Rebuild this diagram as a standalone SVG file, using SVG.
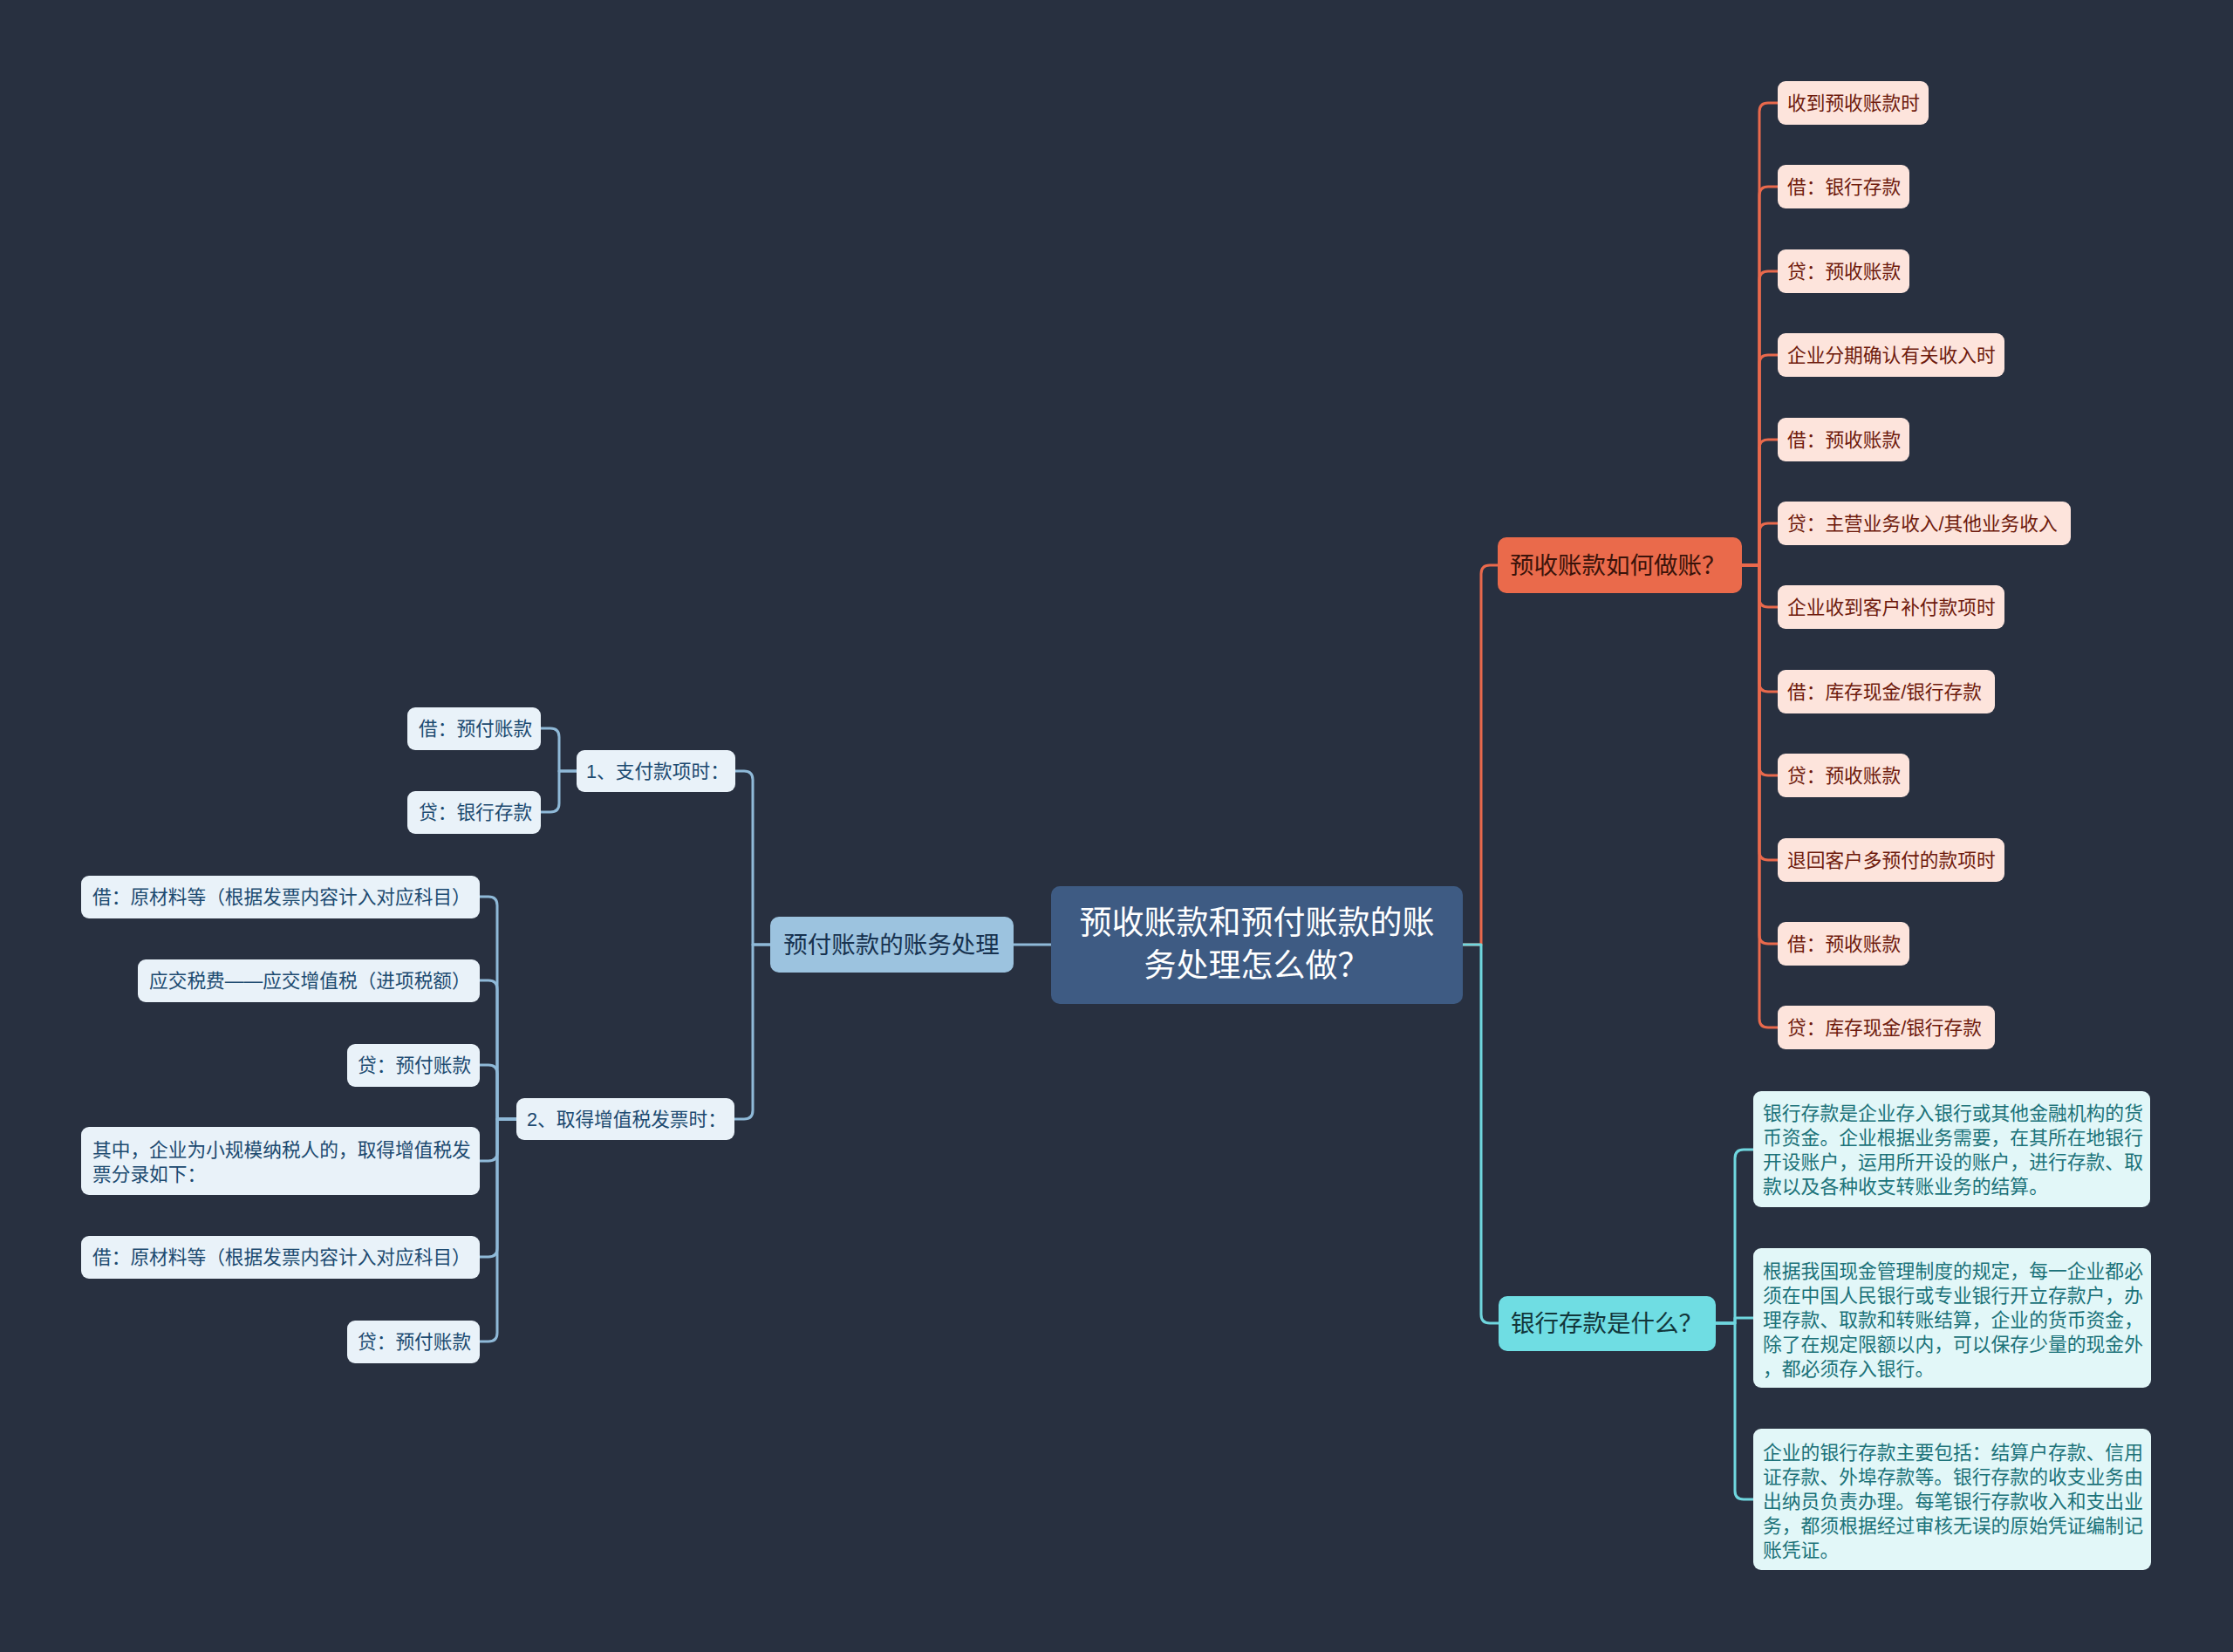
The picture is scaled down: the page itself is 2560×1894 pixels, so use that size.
<svg xmlns="http://www.w3.org/2000/svg" width="2560" height="1894" viewBox="0 0 2560 1894">
<style>
text{font-family:"Liberation Sans","Noto Sans CJK SC",sans-serif;dominant-baseline:central}
.c{fill:none;stroke-width:3;stroke-linejoin:round;stroke-linecap:round}
.co{stroke:#e9694c}
.cc{stroke:#6fd6de}
.cb{stroke:#8fb9d8}
.ro{fill:#fde4dc}
.to{fill:#6e1a0c;font-size:21.7px}
.rb{fill:#e9f2f9}
.tb{fill:#1c4a70;font-size:21.7px}
.rc{fill:#e2f7f8}
.tc{fill:#1b7279;font-size:21.8px}
.main{font-size:27.5px}
</style>
<rect width="2560" height="1894" fill="#283040"/>
<g id="connectors">
<path class="c co" d="M1677,1083 H1698 V658 Q1698,648 1708,648 H1717"/>
<path class="c cc" d="M1677,1083 H1698 V1507 Q1698,1517 1708,1517 H1718"/>
<path class="c cb" d="M1205,1083 H1162"/>
<g class="c co">
<path d="M1997,648 H2017 V128 Q2017,118 2027,118 H2038"/>
<path d="M1997,648 H2017 V224 Q2017,214 2027,214 H2038"/>
<path d="M1997,648 H2017 V321 Q2017,311 2027,311 H2038"/>
<path d="M1997,648 H2017 V417 Q2017,407 2027,407 H2038"/>
<path d="M1997,648 H2017 V514 Q2017,504 2027,504 H2038"/>
<path d="M1997,648 H2017 V610 Q2017,600 2027,600 H2038"/>
<path d="M1997,648 H2017 V686 Q2017,696 2027,696 H2038"/>
<path d="M1997,648 H2017 V783 Q2017,793 2027,793 H2038"/>
<path d="M1997,648 H2017 V879 Q2017,889 2027,889 H2038"/>
<path d="M1997,648 H2017 V976 Q2017,986 2027,986 H2038"/>
<path d="M1997,648 H2017 V1072 Q2017,1082 2027,1082 H2038"/>
<path d="M1997,648 H2017 V1168 Q2017,1178 2027,1178 H2038"/>
</g>
<g class="c cc">
<path d="M1967,1517 H1989 V1328 Q1989,1318 1999,1318 H2010"/>
<path d="M1967,1517 H1989 V1511 H2010"/>
<path d="M1967,1517 H1989 V1709 Q1989,1719 1999,1719 H2010"/>
</g>
<g class="c cb">
<path d="M883,1083 H863 V894 Q863,884 853,884 H843"/>
<path d="M883,1083 H863 V1273 Q863,1283 853,1283 H842"/>
<path d="M661,884 H641 V845 Q641,835 631,835 H620"/>
<path d="M661,884 H641 V921 Q641,931 631,931 H620"/>
<path d="M592,1283 H570 V1038 Q570,1028 560,1028 H550"/>
<path d="M592,1283 H570 V1134 Q570,1124 560,1124 H550"/>
<path d="M592,1283 H570 V1231 Q570,1221 560,1221 H550"/>
<path d="M592,1283 H570 V1321 Q570,1331 560,1331 H550"/>
<path d="M592,1283 H570 V1431 Q570,1441 560,1441 H550"/>
<path d="M592,1283 H570 V1528 Q570,1538 560,1538 H550"/>
</g>
</g>
<g id="root">
<rect x="1205" y="1016" width="472" height="135" rx="10" fill="#3e5b83"/>
<text x="1441" y="1058" text-anchor="middle" font-size="37" fill="#ffffff">预收账款和预付账款的账</text>
<text x="1441" y="1107" text-anchor="middle" font-size="37" fill="#ffffff">务处理怎么做？</text>
</g>
<g id="n-yushou">
<rect x="1717" y="616" width="280" height="64" rx="10" fill="#ea6a4b"/>
<text x="1731" y="648" class="main" fill="#3a130a">预收账款如何做账？</text>
</g>
<g id="n-yinhang">
<rect x="1718" y="1486" width="249" height="63" rx="10" fill="#6fdde3"/>
<text x="1732" y="1517" class="main" fill="#12363b">银行存款是什么？</text>
</g>
<g id="n-yufu">
<rect x="883" y="1051" width="279" height="64" rx="10" fill="#9cc3df"/>
<text x="1022" y="1083" class="main" text-anchor="middle" fill="#17324f">预付账款的账务处理</text>
</g>
<g id="o1"><rect class="ro" x="2038" y="93" width="173" height="50" rx="9"/><text class="to" x="2049" y="118">收到预收账款时</text></g>
<g id="o2"><rect class="ro" x="2038" y="189" width="151" height="50" rx="9"/><text class="to" x="2049" y="214">借：银行存款</text></g>
<g id="o3"><rect class="ro" x="2038" y="286" width="151" height="50" rx="9"/><text class="to" x="2049" y="311">贷：预收账款</text></g>
<g id="o4"><rect class="ro" x="2038" y="382" width="260" height="50" rx="9"/><text class="to" x="2049" y="407">企业分期确认有关收入时</text></g>
<g id="o5"><rect class="ro" x="2038" y="479" width="151" height="50" rx="9"/><text class="to" x="2049" y="504">借：预收账款</text></g>
<g id="o6"><rect class="ro" x="2038" y="575" width="336" height="50" rx="9"/><text class="to" x="2049" y="600">贷：主营业务收入/其他业务收入</text></g>
<g id="o7"><rect class="ro" x="2038" y="671" width="260" height="50" rx="9"/><text class="to" x="2049" y="696">企业收到客户补付款项时</text></g>
<g id="o8"><rect class="ro" x="2038" y="768" width="249" height="50" rx="9"/><text class="to" x="2049" y="793">借：库存现金/银行存款</text></g>
<g id="o9"><rect class="ro" x="2038" y="864" width="151" height="50" rx="9"/><text class="to" x="2049" y="889">贷：预收账款</text></g>
<g id="o10"><rect class="ro" x="2038" y="961" width="260" height="50" rx="9"/><text class="to" x="2049" y="986">退回客户多预付的款项时</text></g>
<g id="o11"><rect class="ro" x="2038" y="1057" width="151" height="50" rx="9"/><text class="to" x="2049" y="1082">借：预收账款</text></g>
<g id="o12"><rect class="ro" x="2038" y="1153" width="249" height="50" rx="9"/><text class="to" x="2049" y="1178">贷：库存现金/银行存款</text></g>
<g id="c1"><rect class="rc" x="2010" y="1251" width="455" height="133" rx="9"/>
<text class="tc" x="2021" y="1276">银行存款是企业存入银行或其他金融机构的货</text>
<text class="tc" x="2021" y="1304">币资金。企业根据业务需要，在其所在地银行</text>
<text class="tc" x="2021" y="1332">开设账户，运用所开设的账户，进行存款、取</text>
<text class="tc" x="2021" y="1360">款以及各种收支转账业务的结算。</text></g>
<g id="c2"><rect class="rc" x="2010" y="1431" width="456" height="160" rx="9"/>
<text class="tc" x="2021" y="1457">根据我国现金管理制度的规定，每一企业都必</text>
<text class="tc" x="2021" y="1485">须在中国人民银行或专业银行开立存款户，办</text>
<text class="tc" x="2021" y="1513">理存款、取款和转账结算，企业的货币资金，</text>
<text class="tc" x="2021" y="1541">除了在规定限额以内，可以保存少量的现金外</text>
<text class="tc" x="2021" y="1569">，都必须存入银行。</text></g>
<g id="c3"><rect class="rc" x="2010" y="1638" width="456" height="162" rx="9"/>
<text class="tc" x="2021" y="1665">企业的银行存款主要包括：结算户存款、信用</text>
<text class="tc" x="2021" y="1693">证存款、外埠存款等。银行存款的收支业务由</text>
<text class="tc" x="2021" y="1721">出纳员负责办理。每笔银行存款收入和支出业</text>
<text class="tc" x="2021" y="1749">务，都须根据经过审核无误的原始凭证编制记</text>
<text class="tc" x="2021" y="1777">账凭证。</text></g>
<g id="b1"><rect class="rb" x="661" y="860" width="182" height="48" rx="9"/><text class="tb" x="672" y="884">1、支付款项时：</text></g>
<g id="b11"><rect class="rb" x="467" y="811" width="153" height="49" rx="9"/><text class="tb" x="480" y="835">借：预付账款</text></g>
<g id="b12"><rect class="rb" x="467" y="907" width="153" height="49" rx="9"/><text class="tb" x="480" y="931">贷：银行存款</text></g>
<g id="b2"><rect class="rb" x="592" y="1259" width="250" height="48" rx="9"/><text class="tb" x="604" y="1283">2、取得增值税发票时：</text></g>
<g id="b21"><rect class="rb" x="93" y="1004" width="457" height="49" rx="9"/><text class="tb" x="106" y="1028">借：原材料等（根据发票内容计入对应科目）</text></g>
<g id="b22"><rect class="rb" x="158" y="1100" width="392" height="49" rx="9"/><text class="tb" x="171" y="1124">应交税费——应交增值税（进项税额）</text></g>
<g id="b23"><rect class="rb" x="398" y="1197" width="152" height="49" rx="9"/><text class="tb" x="410" y="1221">贷：预付账款</text></g>
<g id="b24"><rect class="rb" x="93" y="1292" width="457" height="78" rx="9"/><text class="tb" x="106" y="1318">其中，企业为小规模纳税人的，取得增值税发</text><text class="tb" x="106" y="1346">票分录如下：</text></g>
<g id="b25"><rect class="rb" x="93" y="1417" width="457" height="49" rx="9"/><text class="tb" x="106" y="1441">借：原材料等（根据发票内容计入对应科目）</text></g>
<g id="b26"><rect class="rb" x="398" y="1514" width="152" height="49" rx="9"/><text class="tb" x="410" y="1538">贷：预付账款</text></g>
</svg>
